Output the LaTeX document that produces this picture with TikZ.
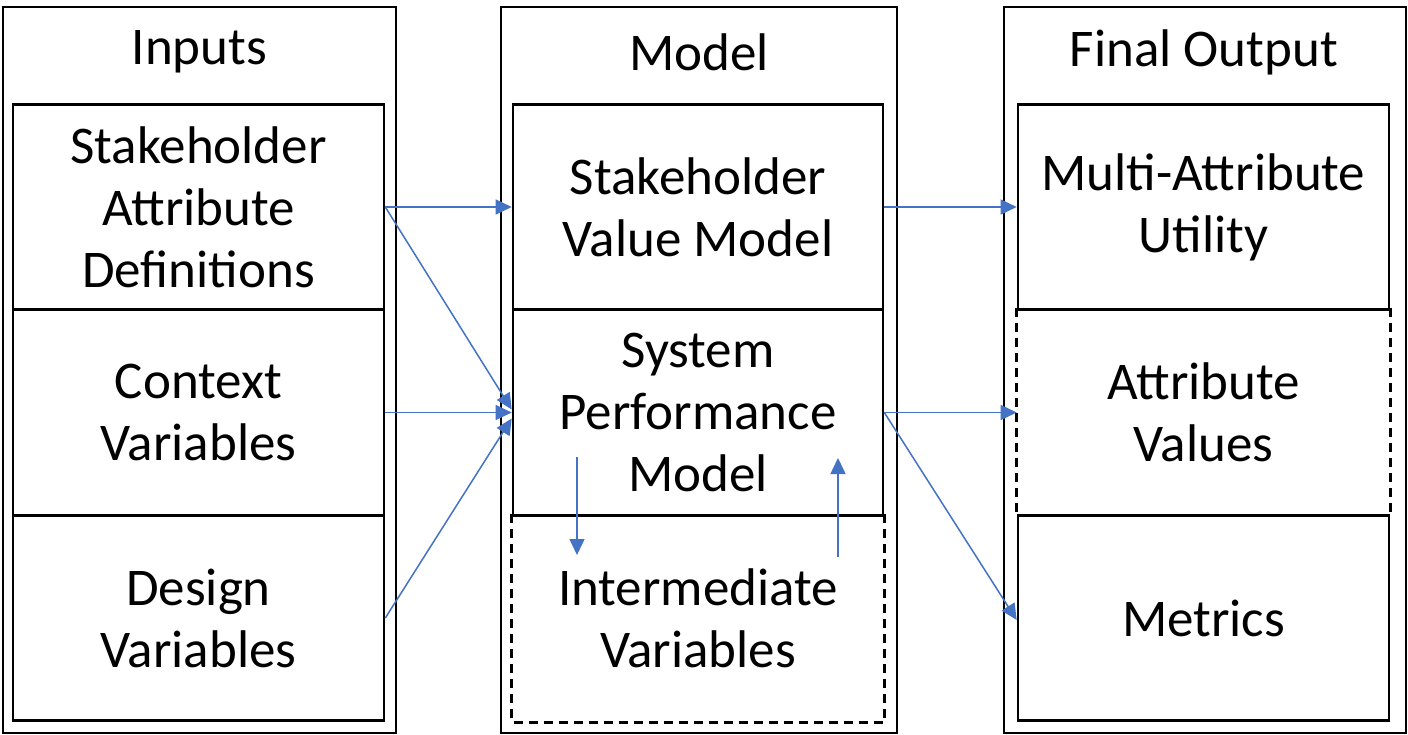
\documentclass[tikz,border=0pt]{standalone}
\usepackage{fontspec}
\setmainfont{Carlito}
\usetikzlibrary{arrows.meta}
\definecolor{arrowblue}{HTML}{4472C4}
\begin{document}
\begin{tikzpicture}[x=1pt,y=-1pt,
  colbox/.style={draw=black, line width=2.8pt, inner sep=0pt, minimum height=726pt},
  cellbox/.style={draw=black, line width=2.6pt, inner sep=0pt, minimum height=205.5pt,
    align=center, font=\fontsize{53}{62}\selectfont},
  dashcell/.style={cellbox, draw=none},
  dashside/.style={draw=black, line width=3pt, dash pattern=on 9pt off 6pt},
  header/.style={inner sep=0pt, font=\fontsize{53}{62}\selectfont},
  flow/.style={draw=arrowblue, line width=1.5pt, -{Triangle[length=16pt,width=15pt]}}
]
\useasboundingbox (0,0) rectangle (1408,735);

% columns
\node[colbox, minimum width=393pt] (cin) at (199.5,370) {};
\node[colbox, minimum width=396pt] (cmod) at (699,370) {};
\node[colbox, minimum width=402pt] (cout) at (1205,370) {};

% headers
\node[header] (hin) at (199.5,52) {Inputs};
\node[header] (hmod) at (699,52) {Model};
\node[header] (hout) at (1204,52) {Final Output};

% dashed cells (drawn first)
\node[dashcell, minimum width=370pt] (imv) at (698,618) {Intermediate\\Variables};
\draw[dashside] (imv.north west) -- (imv.south west) -- (imv.south east) -- (imv.north east);
\node[dashcell, minimum width=371pt] (atv) at (1203.5,412.5) {Attribute\\Values};
\draw[dashside] (atv.north west) -- (atv.south west);
\draw[dashside] (atv.north east) -- (atv.south east);

% inputs
\node[cellbox, minimum width=371pt] (sad) at (198.5,207) {Stakeholder\\Attribute\\Definitions};
\node[cellbox, minimum width=371pt] (ctx) at (198.5,412.5) {Context\\Variables};
\node[cellbox, minimum width=371pt] (dsv) at (198.5,618) {Design\\Variables};

% model
\node[cellbox, minimum width=370pt] (svm) at (698,207) {Stakeholder\\Value Model};
\node[cellbox, minimum width=370pt] (spm) at (698,412.5) {System\\Performance\\Model};

% output
\node[cellbox, minimum width=371pt] (mau) at (1203.5,207) {Multi-Attribute\\Utility};
\node[cellbox, minimum width=371pt] (met) at (1203.5,618) {Metrics};

% inner coordinates for the loop arrows
\coordinate (dA) at (577,457);
\coordinate (dB) at (577,555);
\coordinate (uA) at (838,557);
\coordinate (uB) at (838,458);

% arrows
\draw[flow] (sad.east) -- (svm.west);
\draw[flow] (sad.east) -- ([yshift=3pt]spm.west);
\draw[flow] (ctx.east) -- (spm.west);
\draw[flow] (dsv.east) -- ([yshift=-6pt]spm.west);
\draw[flow] (svm.east) -- (mau.west);
\draw[flow] (spm.east) -- (atv.west);
\draw[flow] (spm.east) -- ([yshift=-2pt]met.west);
\draw[flow] (dA) -- (dB);
\draw[flow] (uA) -- (uB);
\end{tikzpicture}
\end{document}
